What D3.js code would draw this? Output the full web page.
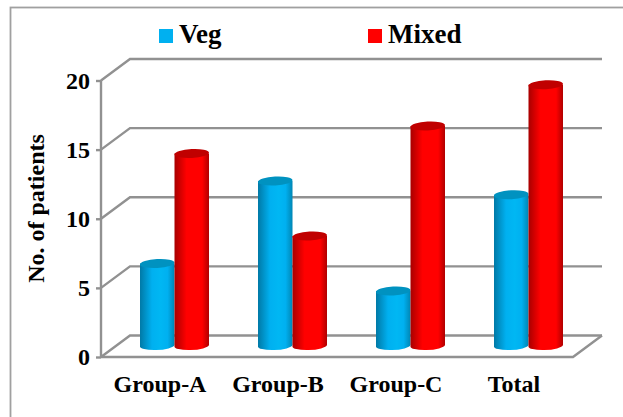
<!DOCTYPE html>
<html><head><meta charset="utf-8">
<script src="https://cdn.jsdelivr.net/npm/d3@7"></script>
<style>html,body{margin:0;padding:0;background:#fff}svg{display:block}
text{font-family:"Liberation Serif",serif;font-weight:bold;fill:#000}</style>
</head><body><svg id="c" width="623" height="417"></svg>
<script>
const categories = ["Group-A","Group-B","Group-C","Total"];
const seriesNames = ["Veg","Mixed"];
const veg = [6,12,4,11];
const mixed = [14,8,16,19];
const yTicks = [0,5,10,15,20];
const yTitle = "No. of patients";
const colors = {Veg:["#0079a6","#00b7f3","#00b0f0","#0086b4","#0092c0"],Mixed:["#a80000","#ff0000","#ff0000","#b00000","#c00000"]};
const legendColor = {Veg:"#00b0f0",Mixed:"#ff0000"};

const W=623,H=417, dx=29, dy=-21.5;
const svg=d3.select("#c").attr("viewBox",`0 0 ${W} ${H}`);
const defs=svg.append("defs");
seriesNames.forEach(s=>{
  const g=defs.append("linearGradient").attr("id","g"+s).attr("x1",0).attr("x2",1).attr("y1",0).attr("y2",0);
  const c=colors[s];
  [[0,c[0]],[.35,c[2]],[.6,c[1]],[.8,c[2]],[1,c[3]]].forEach(([o,col])=>g.append("stop").attr("offset",o).attr("stop-color",col));
});
svg.append("rect").attr("x",10.5).attr("y",7.5).attr("width",W+20).attr("height",H+20)
  .attr("fill","none").attr("stroke","#a0a0a0").attr("stroke-width",1.8);

const y=d3.scaleLinear().domain([0,20]).range([357,80.5]);
const x=d3.scaleBand().domain(categories).range([101,573]);
const grey="#919191";
const grid=svg.append("g").attr("fill","none").attr("stroke",grey).attr("stroke-width",2.4);
yTicks.forEach(t=>{
  grid.append("path").attr("d",d3.line()([[x.range()[0],y(t)],[x.range()[0]+dx,y(t)+dy],[x.range()[1]+dx,y(t)+dy]]));
});
grid.append("path").attr("d",d3.line()([[x.range()[0],y(0)],[x.range()[1],y(0)],[x.range()[1]+dx,y(0)+dy]]));
grid.append("path").attr("d",d3.line()([[x.range()[0],y(20)],[x.range()[0],y(0)]]));

const yAxis=d3.axisLeft(y).tickValues(yTicks).tickSize(5).tickPadding(6);
const ya=svg.append("g").attr("transform",`translate(${x.range()[0]},0)`).call(yAxis);
ya.select(".domain").remove();
ya.selectAll("line").attr("stroke",grey).attr("stroke-width",2.4);
ya.selectAll("text").attr("font-size",24).attr("font-family","Liberation Serif").attr("font-weight","bold").attr("fill","#000");

const xAxis=d3.axisBottom(x).tickSize(0).tickPadding(0);
const xa=svg.append("g").attr("transform","translate(0,375)").call(xAxis);
xa.select(".domain").remove();
xa.selectAll("text").attr("font-size",24).attr("font-family","Liberation Serif").attr("font-weight","bold").attr("fill","#000");

const xi=d3.scaleBand().domain(seriesNames).range([x.bandwidth()/2-34.5,x.bandwidth()/2+34.5]);
const base=y(0)-11;
const yBar=d3.scaleLinear().domain(y.domain()).range([base,base-(y(0)-y(20))+1.5]);
const ry=4.5;
const rows=categories.flatMap((c,i)=>[{c,s:"Veg",v:veg[i]},{c,s:"Mixed",v:mixed[i]}]);
const bars=svg.append("g").selectAll("g").data(rows).join("g")
  .attr("transform",d=>`translate(${x(d.c)+14.5+xi(d.s)},0)`);
const rx=xi.bandwidth()/2;
bars.append("path").attr("fill",d=>`url(#g${d.s})`)
  .attr("d",d=>{const t=yBar(d.v);return `M0,${t}V${base}A${rx},${ry} -3 0 0 ${2*rx},${base-1}V${t}Z`;});
bars.append("ellipse").attr("cx",rx).attr("rx",rx).attr("ry",ry).attr("cy",d=>yBar(d.v))
  .attr("transform",d=>`rotate(-3 ${rx} ${yBar(d.v)})`)
  .attr("fill",d=>colors[d.s][4]);

const lx=d3.scaleOrdinal().domain(seriesNames).range([159,368]);
const lg=svg.append("g").selectAll("g").data(seriesNames).join("g").attr("transform",d=>`translate(${lx(d)},0)`);
lg.append("rect").attr("y",29).attr("width",14).attr("height",14).attr("fill",d=>legendColor[d]);
lg.append("text").attr("x",20).attr("y",43).attr("font-size",27).text(d=>d);

svg.append("text").attr("transform","translate(44,208.5) rotate(-90)").attr("text-anchor","middle")
  .attr("font-size",24).text(yTitle);
</script></body></html>
